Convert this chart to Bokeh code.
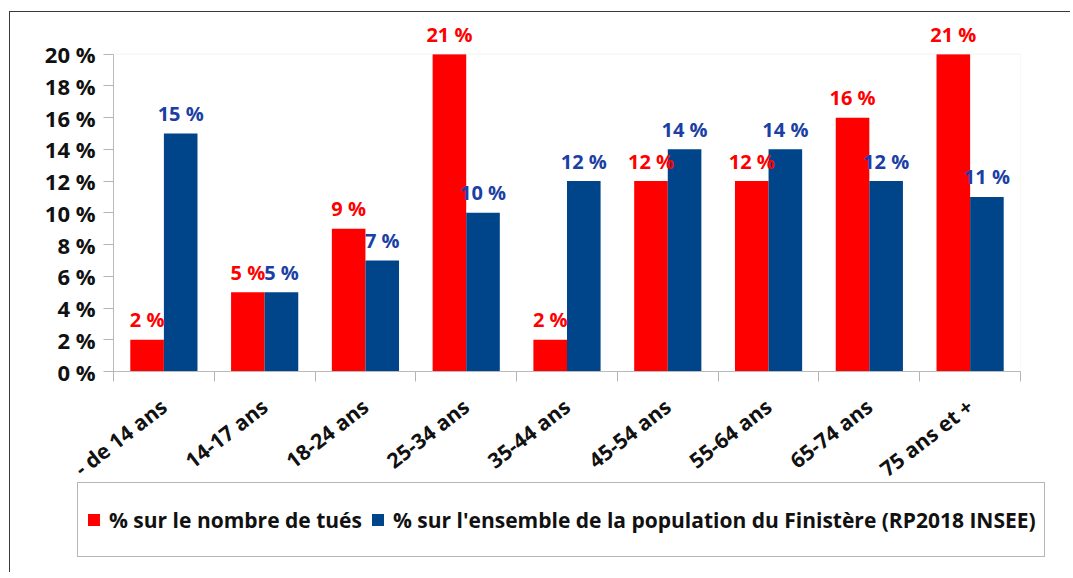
from bokeh.plotting import figure
from bokeh.layouts import column
from bokeh.models import (ColumnDataSource, Range1d, FixedTicker, Legend, LegendItem,
                          BoxAnnotation)
from bokeh.core.properties import value
from bokeh.embed import file_html
from bokeh.resources import INLINE

categories = ["- de 14 ans", "14-17 ans", "18-24 ans", "25-34 ans", "35-44 ans",
              "45-54 ans", "55-64 ans", "65-74 ans", "75 ans et +"]
tues = [2, 5, 9, 21, 2, 12, 12, 16, 21]
population = [15, 5, 7, 10, 12, 14, 14, 12, 11]
y_ticks = [0, 2, 4, 6, 8, 10, 12, 14, 16, 18, 20]
y_tick_labels = ["0 %", "2 %", "4 %", "6 %", "8 %", "10 %", "12 %", "14 %", "16 %", "18 %", "20 %"]
series_names = ["% sur le nombre de tués",
                "% sur l'ensemble de la population du Finistère (RP2018 INSEE)"]

RED = "#ff0000"
BLUE = "#00458a"
BLUE_LABEL = "#1c3fa4"
FONT = "Open Sans"
YMAX = y_ticks[-1]
Y_VIEW_END = 22.5   # head room above the 20 % axis for the value labels

n = len(categories)
centers = [i + 0.5 for i in range(n)]
bw = 1.0 / 3.0

src = ColumnDataSource(dict(
    xr=[c - bw / 2 for c in centers],
    xb=[c + bw / 2 for c in centers],
    tues_bar=[min(v, YMAX) for v in tues],
    pop_bar=[min(v, YMAX) for v in population],
    tues_txt=[f"{v} %" for v in tues],
    pop_txt=[f"{v} %" for v in population],
))

W, H2 = 1060, 90
BOTTOM = 128
H1 = 359 + BOTTOM
p = figure(width=W, height=H1, output_backend="svg", toolbar_location=None,
           x_range=Range1d(0, n), y_range=Range1d(0, Y_VIEW_END),
           min_border_left=103, min_border_top=2, min_border_right=W - 1010,
           min_border_bottom=BOTTOM)
p.frame_align = False

p.xgrid.visible = False
p.ygrid.visible = False
p.outline_line_color = None

frame_box = BoxAnnotation(left=0, right=n, bottom=0, top=YMAX, fill_color=None,
                          line_color="#d4d4d4", line_width=1)
p.add_layout(frame_box)

r_red = p.vbar(x="xr", top="tues_bar", width=bw, source=src, fill_color=RED, line_color=None)
r_blue = p.vbar(x="xb", top="pop_bar", width=bw, source=src, fill_color=BLUE, line_color=None)

p.text(x="xr", y="tues_bar", text="tues_txt", source=src, text_color=RED,
       text_font=value(FONT), text_font_style="bold", text_font_size="20px",
       text_align="center", text_baseline="alphabetic", y_offset=-20)
p.text(x="xb", y="pop_bar", text="pop_txt", source=src, text_color=BLUE_LABEL,
       text_font=value(FONT), text_font_style="bold", text_font_size="20px",
       text_align="center", text_baseline="alphabetic", y_offset=-20)

# y axis
ya = p.yaxis[0]
ya.bounds = (0, YMAX)
ya.ticker = FixedTicker(ticks=y_ticks)
ya.major_label_overrides = {t: l for t, l in zip(y_ticks, y_tick_labels)}
ya.major_tick_out = 10
ya.major_tick_in = 0
ya.minor_tick_out = 0
ya.minor_tick_in = 0
ya.axis_line_color = "#b5b5b5"
ya.major_tick_line_color = "#b5b5b5"
ya.major_label_text_font = FONT
ya.major_label_text_font_style = "bold"
ya.major_label_text_font_size = "22px"
ya.major_label_text_color = "#111111"
ya.major_label_standoff = 8

# x axis
xa = p.xaxis[0]
xa.ticker = FixedTicker(ticks=centers, minor_ticks=list(range(n + 1)))
xa.major_label_overrides = {c: l for c, l in zip(centers, categories)}
xa.major_tick_out = 0
xa.major_tick_in = 0
xa.minor_tick_out = 10
xa.minor_tick_in = 0
xa.axis_line_color = "#b5b5b5"
xa.minor_tick_line_color = "#b5b5b5"
xa.major_label_orientation = 0.66
xa.major_label_text_font = FONT
xa.major_label_text_font_style = "bold"
xa.major_label_text_font_size = "21px"
xa.major_label_text_color = "#111111"
xa.major_label_standoff = 22

# legend figure: its bars sit entirely beneath the opaque legend box
pl = figure(width=W, height=H2, output_backend="svg", toolbar_location=None,
            x_range=Range1d(-0.6, n + 0.3), y_range=Range1d(-6.2, 21.5),
            x_axis_type=None, y_axis_type=None, min_border=0)
pl.frame_align = False
pl.xgrid.visible = False
pl.ygrid.visible = False
pl.outline_line_color = None
pl.background_fill_alpha = 0
pl.border_fill_alpha = 0
pl.styles = {"margin-top": f"{482 - (12 + H1)}px"}
lr = pl.vbar(x="xr", top="tues_bar", width=bw, source=src, fill_color=RED, line_color=None)
lb = pl.vbar(x="xb", top="pop_bar", width=bw, source=src, fill_color=BLUE, line_color=None)

legend = Legend(items=[LegendItem(label=series_names[0], renderers=[lr]),
                       LegendItem(label=series_names[1], renderers=[lb])],
                orientation="horizontal", location=(67, 15))
legend.glyph_width = 15
legend.glyph_height = 15
legend.label_height = 57
legend.padding = 8
legend.spacing = 8
legend.margin = 0
legend.label_standoff = 8
legend.label_text_font = FONT
legend.label_text_font_style = "bold"
legend.label_text_font_size = "21px"
legend.label_text_color = "#111111"
legend.border_line_color = "#6e6e6e"
legend.border_line_width = 1
legend.background_fill_color = "white"
legend.background_fill_alpha = 1
pl.add_layout(legend, "center")

layout = column(p, pl, spacing=0)
layout.styles = {"border-left": "1px solid #3a3a3a", "border-top": "1px solid #3a3a3a",
                 "margin-top": "11px", "margin-left": "9px"}

open("out.html", "w").write(file_html(layout, INLINE))
